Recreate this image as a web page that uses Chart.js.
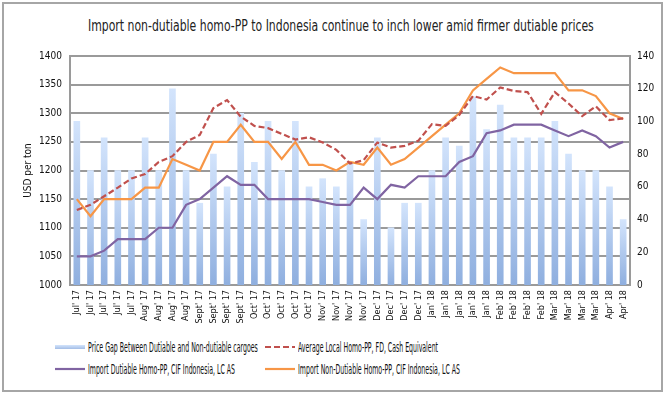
<!DOCTYPE html>
<html>
<head>
<meta charset="utf-8">
<script src="https://cdn.jsdelivr.net/npm/chart.js@4.4.1/dist/chart.umd.min.js"></script>
<style>
  body { margin: 0; background: #fff; width: 668px; height: 396px; overflow: hidden; position: relative; font-family: 'Liberation Sans Narrow', 'DejaVu Sans Condensed', sans-serif; }
  #frame { position: absolute; left: 2px; top: 2px; width: 657px; height: 386px; border: 2px solid #a6a6a6; }
  #title { position: absolute; left: 88px; top: 17px; font-size: 15px; line-height: 18px; color: #222; white-space: nowrap; transform-origin: left center; }
  #wrap { position: absolute; left: 0; top: 0; width: 668px; height: 335px; }
  #legend { position: absolute; left: 0; top: 0; }
  .item { position: absolute; height: 14px; white-space: nowrap; }
  .sym { position: absolute; left: 0; top: 0; width: 30px; height: 14px; }
  .txt { position: absolute; left: 33px; top: 0; font-size: 13.5px; line-height: 14px; color: #111; transform-origin: left center; }
</style>
</head>
<body>
<div id="frame"></div>
<div id="title">Import non-dutiable homo-PP to Indonesia continue to inch lower amid firmer dutiable prices</div>
<div id="wrap"><canvas id="c"></canvas></div>
<div id="legend"></div>
<script>
const labels = [
  "Jul' 17","Jul' 17","Jul' 17","Jul' 17","Jul' 17",
  "Aug' 17","Aug' 17","Aug' 17","Aug' 17",
  "Sept' 17","Sept' 17","Sept' 17","Sept' 17",
  "Oct' 17","Oct' 17","Oct' 17","Oct' 17","Oct' 17",
  "Nov' 17","Nov' 17","Nov' 17","Nov' 17",
  "Dec' 17","Dec' 17","Dec' 17","Dec' 17",
  "Jan' 18","Jan' 18","Jan' 18","Jan' 18","Jan' 18",
  "Feb' 18","Feb' 18","Feb' 18","Feb' 18",
  "Mar' 18","Mar' 18","Mar' 18","Mar' 18",
  "Apr' 18","Apr' 18"
];

// price gap, right axis
const priceGap = [100, 70, 90, 70, 70, 90, 70, 120, 70, 50, 80, 60, 105, 75, 100, 70, 100, 60, 65, 60,
  75, 40, 90, 35, 50, 50, 70, 90, 85, 115, 95, 110, 90, 90, 90, 100, 80, 70, 70, 60, 40];

// left axis, USD per ton
const localAvg = [1131, 1140, 1155, 1170, 1186, 1194, 1215, 1225, 1250, 1262, 1309, 1323, 1294, 1278, 1274, 1264, 1254, 1258, 1249, 1236,
  1212, 1218, 1249, 1240, 1243, 1252, 1281, 1278, 1297, 1330, 1324, 1345, 1339, 1337, 1299, 1337, 1317, 1295, 1312, 1288, 1291];
const dutiable = [1050, 1050, 1060, 1080, 1080, 1080, 1100, 1100, 1140, 1150, 1170, 1190, 1175, 1175, 1150, 1150, 1150, 1150, 1145, 1140,
  1140, 1170, 1150, 1175, 1170, 1190, 1190, 1190, 1215, 1225, 1265, 1270, 1280, 1280, 1280, 1270, 1260, 1270, 1260, 1240, 1250];
const nonDutiable = [1150, 1120, 1150, 1150, 1150, 1170, 1170, 1220, 1210, 1200, 1250, 1250, 1280, 1250, 1250, 1220, 1250, 1210, 1210, 1200,
  1215, 1210, 1240, 1210, 1220, 1240, 1260, 1280, 1300, 1340, 1360, 1380, 1370, 1370, 1370, 1370, 1340, 1340, 1330, 1300, 1290];

const leftTicks = [1000, 1050, 1100, 1150, 1200, 1250, 1300, 1350, 1400];
const rightTicks = [0, 20, 40, 60, 80, 100, 120, 140];

const FONT = "'Liberation Sans Narrow', 'DejaVu Sans Condensed', sans-serif";
const gridCol = '#9a9a9a';

function barFill(ctx) {
    const chart = ctx.chart;
    const area = chart.chartArea;
    if (!area) return '#b9cff2';
    const top = chart.scales.y1.getPixelForValue(ctx.raw);
    const g = chart.ctx.createLinearGradient(0, top, 0, area.bottom);
    g.addColorStop(0, '#d3e4fc');
    g.addColorStop(1, '#8fafdf');
    return g;
}

const chart = new Chart(document.getElementById('c'), {
    type: 'bar',
    data: {
        labels: labels,
        datasets: [
            { type: 'line', label: 'Average Local Homo-PP, FD, Cash Equivalent', data: localAvg, yAxisID: 'y',
              borderColor: '#c0504d', borderWidth: 2.2, borderDash: [6, 3], pointRadius: 0, tension: 0, order: 1 },
            { type: 'line', label: 'Import Non-Dutiable Homo-PP, CIF Indonesia, LC AS', data: nonDutiable, yAxisID: 'y',
              borderColor: '#f79646', borderWidth: 2.2, pointRadius: 0, tension: 0, order: 2 },
            { type: 'line', label: 'Import Dutiable Homo-PP, CIF Indonesia, LC AS', data: dutiable, yAxisID: 'y',
              borderColor: '#8064a2', borderWidth: 2.2, pointRadius: 0, tension: 0, order: 3 },
            { type: 'bar', label: 'Price Gap Between Dutiable and Non-dutiable cargoes', data: priceGap, yAxisID: 'y1',
              backgroundColor: barFill, barThickness: 6, order: 10 }
        ]
    },
    options: {
        responsive: true,
        maintainAspectRatio: false,
        animation: false,
        layout: { padding: { top: 56, left: 0, right: 0, bottom: 0 } },
        plugins: { legend: { display: false }, tooltip: { enabled: false } },
        scales: {
            x: {
                grid: { display: false, drawTicks: false },
                border: { display: false },
                ticks: { color: '#111', font: { family: FONT, size: 9 }, minRotation: 90, maxRotation: 90, autoSkip: false, padding: 5 },
                afterFit: s => { s.height = 50; }
            },
            y: {
                position: 'left',
                min: 1000, max: 1400,
                afterBuildTicks: s => { s.ticks = leftTicks.map(v => ({ value: v })); },
                grid: { color: gridCol, lineWidth: 2, drawTicks: false },
                border: { display: true, color: gridCol, width: 2 },
                ticks: { color: '#111', font: { family: FONT, size: 10 }, padding: 8, callback: v => String(v) },
                title: { display: true, text: 'USD per ton', color: '#111', font: { family: FONT, size: 10 }, padding: { top: 22, bottom: 0 } },
                afterFit: s => { s.width = 70; }
            },
            y1: {
                position: 'right',
                min: 0, max: 140,
                afterBuildTicks: s => { s.ticks = rightTicks.map(v => ({ value: v })); },
                grid: { display: false, drawTicks: false },
                border: { display: true, color: gridCol, width: 2 },
                ticks: { color: '#111', font: { family: FONT, size: 10 }, padding: 7, callback: v => String(v) },
                afterFit: s => { s.width = 38; }
            }
        }
    }
});

// fit title to the reference width
const title = document.getElementById('title');
const tw = title.getBoundingClientRect().width;
title.style.transform = 'scaleX(' + (506 / tw).toFixed(3) + ')';

// legend, built from the chart's datasets
const legendPos = [
    { ds: 3, x: 55, y: 340 },
    { ds: 0, x: 265, y: 340 },
    { ds: 2, x: 55, y: 362 },
    { ds: 1, x: 265, y: 362 }
];
const legendWidths = [170, 140, 147, 162];
const legend = document.getElementById('legend');
legendPos.forEach((p, i) => {
    const ds = chart.data.datasets[p.ds];
    const item = document.createElement('div');
    item.className = 'item';
    item.style.left = p.x + 'px';
    item.style.top = p.y + 'px';
    const sym = document.createElement('canvas');
    sym.className = 'sym';
    sym.width = 30; sym.height = 14;
    const c = sym.getContext('2d');
    if (ds.type === 'bar') {
        const g = c.createLinearGradient(0, 5, 0, 9);
        g.addColorStop(0, '#d3e4fc'); g.addColorStop(1, '#a3bde6');
        c.fillStyle = g;
        c.fillRect(0, 5, 30, 4);
    } else {
        c.strokeStyle = ds.borderColor;
        c.lineWidth = 2.2;
        if (ds.borderDash) c.setLineDash(ds.borderDash);
        c.beginPath(); c.moveTo(0, 7); c.lineTo(30, 7); c.stroke();
    }
    const t = document.createElement('span');
    t.className = 'txt';
    t.textContent = ds.label;
    item.appendChild(sym);
    item.appendChild(t);
    legend.appendChild(item);
    const w = t.getBoundingClientRect().width;
    t.style.transform = 'scaleX(' + (legendWidths[i] / w).toFixed(3) + ')';
});
</script>
</body>
</html>
